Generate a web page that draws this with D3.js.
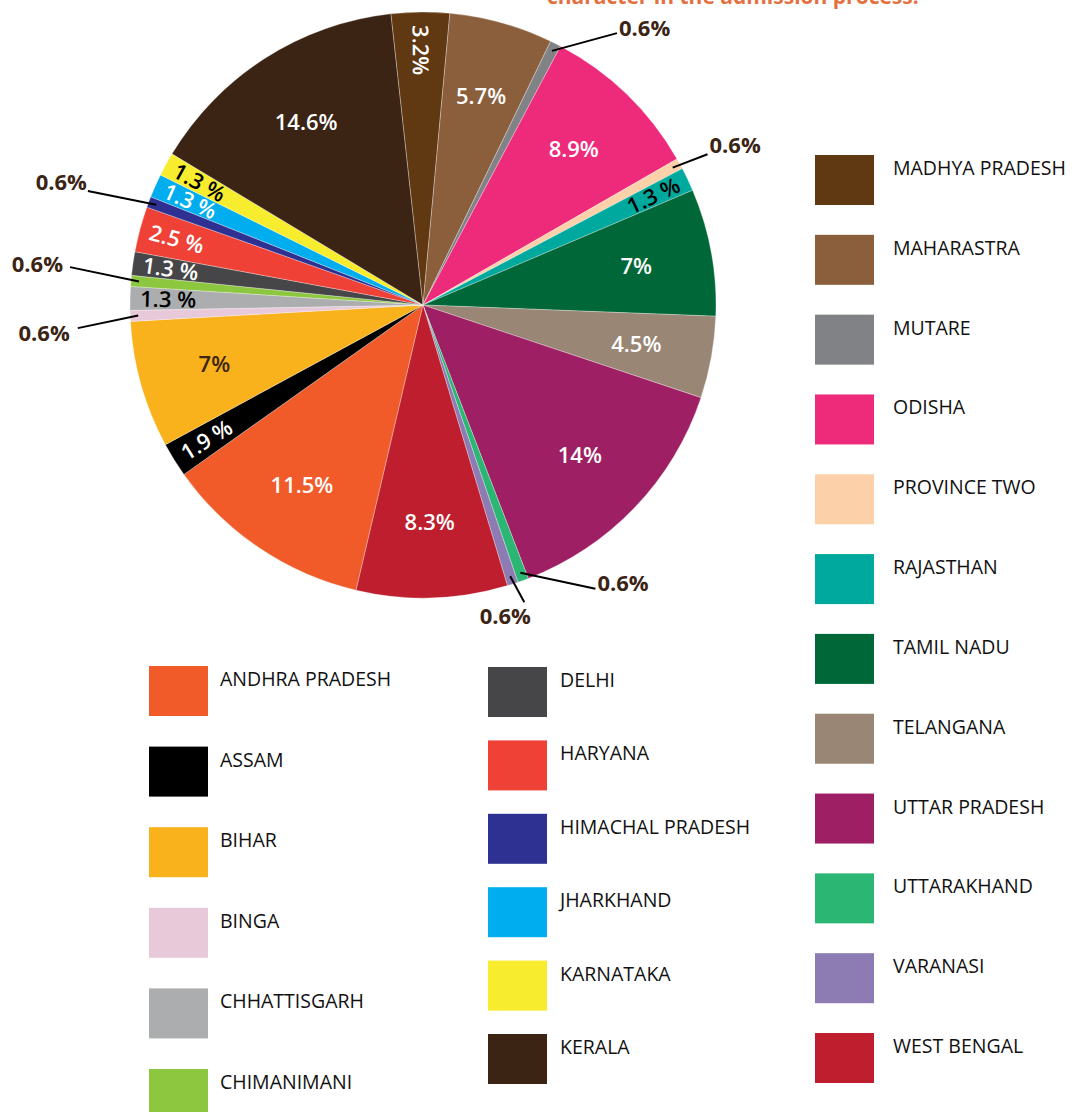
<!DOCTYPE html>
<html>
<head>
<meta charset="utf-8">
<script src="https://cdn.jsdelivr.net/npm/d3@7"></script>
<style>
  body { margin: 0; background: #fff; }
  svg { display: block; font-family: "Open Sans", sans-serif; }
</style>
</head>
<body>
<svg id="chart"></svg>
<script>
// states in legend order (alphabetical), share of respondents in %
const states = [
  "ANDHRA PRADESH", "ASSAM", "BIHAR", "BINGA", "CHHATTISGARH", "CHIMANIMANI",
  "DELHI", "HARYANA", "HIMACHAL PRADESH", "JHARKHAND", "KARNATAKA", "KERALA",
  "MADHYA PRADESH", "MAHARASTRA", "MUTARE", "ODISHA", "PROVINCE TWO", "RAJASTHAN",
  "TAMIL NADU", "TELANGANA", "UTTAR PRADESH", "UTTARAKHAND", "VARANASI", "WEST BENGAL"
];
const shares = [
  11.5, 1.9, 7, 0.6, 1.3, 0.6,
  1.3, 2.5, 0.6, 1.3, 1.3, 14.6,
  3.2, 5.7, 0.6, 8.9, 0.6, 1.3,
  7, 4.5, 14, 0.6, 0.6, 8.3
];
const colours = [
  "#f15a29", "#000000", "#f9b11c", "#e8c9d9", "#acadaf", "#8dc63f",
  "#464648", "#ef4136", "#2e3192", "#00aeef", "#f7ec2e", "#3c2415",
  "#603913", "#8b5e3c", "#808285", "#ee2a7b", "#fcd1a9", "#00a99d",
  "#006838", "#998675", "#9e1f63", "#2bb673", "#8c7cb3", "#be1e2d"
];
const titleText = "character in the admission process.";

const width = 1075, height = 1112;
const cx = 423, cy = 305, radius = 293;
const svg = d3.select("#chart").attr("width", width).attr("height", height);

// title is cut off at the top of the picture, as in the source
svg.append("text")
  .attr("x", 547).attr("y", 4)
  .attr("fill", "#e4703f")
  .style("font-size", "21px").style("font-weight", "bold")
  .text(titleText);

const color = d3.scaleOrdinal(states, colours);
const start = 193.2 * Math.PI / 180;
const pie = d3.pie().sort(null).value(d => d.value)
  .startAngle(start).endAngle(start + 2 * Math.PI);
const slices = pie(states.map((s, i) => ({ name: s, value: shares[i] })));

const arc = d3.arc().innerRadius(0).outerRadius(radius);
const bigLabelArc = d3.arc().innerRadius(radius * 0.74).outerRadius(radius * 0.74);
const thinLabelArc = d3.arc().innerRadius(radius * 0.87).outerRadius(radius * 0.87);
const edgeArc = d3.arc().innerRadius(285).outerRadius(285);

const g = svg.append("g").attr("transform", `translate(${cx},${cy})`);

g.selectAll("path").data(slices).join("path")
  .attr("d", arc)
  .attr("fill", d => color(d.data.name))
  .attr("stroke", "#fff").attr("stroke-opacity", 0.5).attr("stroke-width", 0.6);

const darkText = { "KARNATAKA": "#000", "CHHATTISGARH": "#000", "RAJASTHAN": "#000", "BIHAR": "#3c2415" };
const midDeg = d => {
  let a = (d.startAngle + d.endAngle) / 2 * 180 / Math.PI;
  a = ((a + 180) % 360 + 360) % 360 - 180;
  return a;
};

// labels inside the slices
const inside = slices.filter(d => d.data.value >= 1);
g.selectAll("text.inside").data(inside).join("text")
  .attr("class", "inside")
  .attr("transform", d => {
    const thin = d.data.value < 4;
    const [x, y] = (thin ? thinLabelArc : bigLabelArc).centroid(d);
    if (!thin) return `translate(${x},${y})`;
    const a = midDeg(d);
    const rot = a < 0 ? a + 90 : a - 90;
    return `translate(${x},${y}) rotate(${rot})`;
  })
  .attr("text-anchor", "middle").attr("dy", "0.36em")
  .attr("fill", d => darkText[d.data.name] || "#fff")
  .style("font-size", "22px").style("font-weight", 600)
  .text(d => d.data.value < 3 ? d.data.value + " %" : d.data.value + "%");

// callouts for the tiny slices: angle turn, radius of the elbow, text placement
const callouts = {
  "MUTARE":           { turn: 8.6,   r: 334, anchor: "start",  dx: 2,   dy: 3 },
  "PROVINCE TWO":     { turn: 0.9,   r: 322, anchor: "start",  dx: 2,   dy: -1 },
  "UTTARAKHAND":      { turn: -11.3, r: 332, anchor: "start",  dx: 2,   dy: 2 },
  "VARANASI":         { turn: -1.0,  r: 314, anchor: "middle", dx: -19, dy: 22 },
  "BINGA":            { turn: -1.7,  r: 346, anchor: "end",    dx: -8,  dy: 13 },
  "CHIMANIMANI":      { turn: 1.4,   r: 355, anchor: "end",    dx: -7,  dy: 5 },
  "HIMACHAL PRADESH": { turn: -1.8,  r: 354, anchor: "end",    dx: -1,  dy: -1 }
};
const outside = slices.filter(d => d.data.value < 1);
const elbow = d => {
  const c = callouts[d.data.name];
  const a = (d.startAngle + d.endAngle) / 2 + c.turn * Math.PI / 180;
  return [Math.sin(a) * c.r, -Math.cos(a) * c.r];
};

g.selectAll("line.leader").data(outside).join("line")
  .attr("class", "leader")
  .attr("x1", d => edgeArc.centroid(d)[0]).attr("y1", d => edgeArc.centroid(d)[1])
  .attr("x2", d => elbow(d)[0]).attr("y2", d => elbow(d)[1])
  .attr("stroke", "#000").attr("stroke-width", 2);

g.selectAll("text.outside").data(outside).join("text")
  .attr("class", "outside")
  .attr("x", d => elbow(d)[0] + callouts[d.data.name].dx)
  .attr("y", d => elbow(d)[1] + callouts[d.data.name].dy)
  .attr("text-anchor", d => callouts[d.data.name].anchor)
  .attr("fill", "#3c2415")
  .style("font-size", "22px").style("font-weight", "bold")
  .text(d => d.data.value + "%");

// legend: three columns
const columns = [
  { from: 0,  to: 6,  x: 149, top: 666, bottom: 1069, gap: 71 },
  { from: 6,  to: 12, x: 488, top: 667, bottom: 1034, gap: 72 },
  { from: 12, to: 24, x: 815, top: 155, bottom: 1033, gap: 78 }
];
columns.forEach(col => {
  const items = states.slice(col.from, col.to);
  const y = d3.scaleLinear().domain([0, items.length - 1]).range([col.top, col.bottom]);
  const row = svg.append("g").selectAll("g").data(items).join("g")
    .attr("transform", (d, i) => `translate(${col.x},${y(i)})`);
  row.append("rect").attr("width", 59).attr("height", 50).attr("fill", d => color(d));
  row.append("text").attr("x", col.gap).attr("y", 20)
    .attr("fill", "#111").style("font-size", "19.5px")
    .text(d => d);
});
</script>
</body>
</html>
